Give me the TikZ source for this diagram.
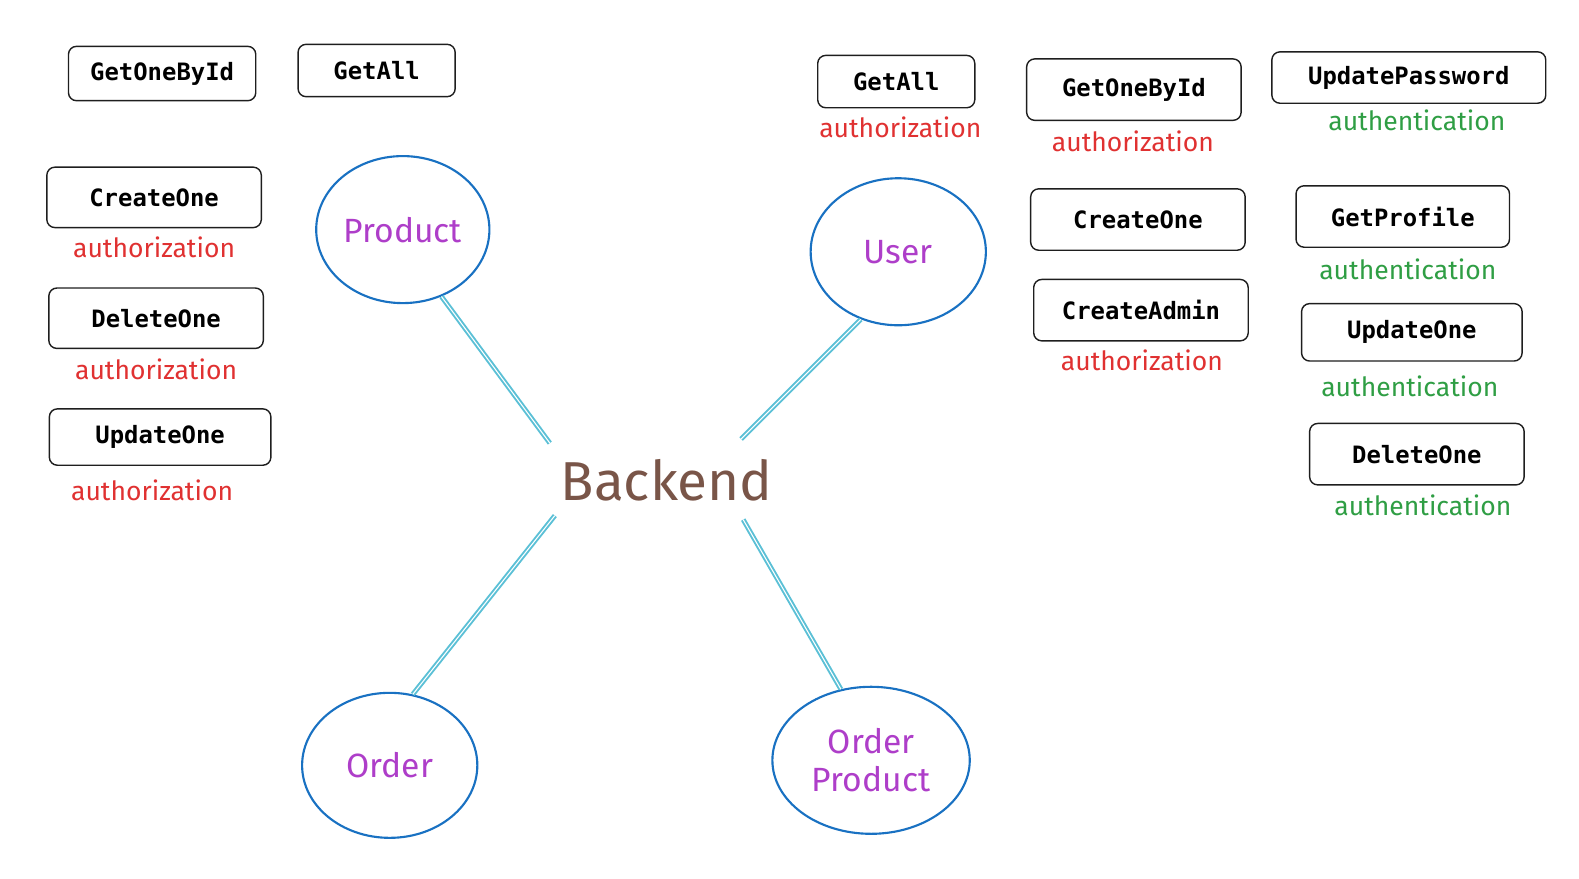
\documentclass[tikz,border=0pt]{standalone}
\usepackage{fontspec}
\setmainfont{Fira Sans}
\newfontfamily\codefont{DejaVu Sans Mono}
\usetikzlibrary{shapes.geometric}

\definecolor{boxline}{HTML}{1E1E1E}
\definecolor{authred}{HTML}{E03131}
\definecolor{authgreen}{HTML}{2F9E44}
\definecolor{entpurple}{HTML}{AE3EC9}
\definecolor{entblue}{HTML}{1971C2}
\definecolor{linkcyan}{HTML}{5BC0D6}
\definecolor{backbrown}{HTML}{795548}

\newlength\pxu
\setlength\pxu{0.02cm}

\tikzset{
  endpoint/.style={draw=boxline, line width=0.8pt, rounded corners=8\pxu, fill=white,
    inner sep=0pt, font=\codefont\bfseries\fontsize{13.5}{15}\selectfont},
  authz/.style={text=authred, font=\fontsize{15}{17}\selectfont},
  authn/.style={text=authgreen, font=\fontsize{15}{17}\selectfont},
  entity/.style={ellipse, draw=entblue, line width=1.2pt, inner sep=0pt, align=center,
    text=entpurple, font=\fontsize{19}{21.5}\selectfont},
  link/.style={draw=linkcyan, line width=1.1pt, double=white, double distance=0.6pt},
}

\begin{document}
\begin{tikzpicture}[x=0.02cm, y=-0.02cm]
\useasboundingbox (0,0) rectangle (1568,872);

% centre
\node[text=backbrown, font=\fontsize{31}{33}\selectfont] (backend) at (662,477) {Backend};
\coordinate (bnw) at ([shift={(-116,-37)}]backend.center);
\coordinate (bne) at ([shift={(74,-41)}]backend.center);
\coordinate (bsw) at ([shift={(-111,35)}]backend.center);
\coordinate (bse) at ([shift={(76,39)}]backend.center);

% entities
\node[entity, minimum width=172\pxu, minimum height=146\pxu] (product) at (400,228) {Product};
\node[entity, minimum width=174\pxu, minimum height=146\pxu] (user) at (892,250) {User};
\node[entity, minimum width=174\pxu, minimum height=144\pxu] (order) at (387,760) {Order};
\node[entity, minimum width=196\pxu, minimum height=146\pxu] (orderproduct) at (865,755) {Order\\Product};

\draw[link] (product.-60) -- (bnw);
\draw[link] (user.-119) -- (bne);
\draw[link] (order.72) -- (bsw);
\draw[link] (orderproduct.113) -- (bse);

% product endpoints
\node[endpoint, minimum width=186\pxu, minimum height=54\pxu] (pgetone) at (161,73) {GetOneById};
\node[endpoint, minimum width=156\pxu, minimum height=52\pxu] (pgetall) at (374,70) {GetAll};
\node[endpoint, minimum width=213\pxu, minimum height=60\pxu] (pcreate) at (153,196) {CreateOne};
\node[endpoint, minimum width=213\pxu, minimum height=60\pxu] (pdelete) at (155,316) {DeleteOne};
\node[endpoint, minimum width=220\pxu, minimum height=56\pxu] (pupdate) at (159,434) {UpdateOne};
\node[authz] (pcreatez) at (153,246) {authorization};
\node[authz] (pdeletez) at (155,367) {authorization};
\node[authz] (pupdatez) at (151,487) {authorization};

% user endpoints
\node[endpoint, minimum width=156\pxu, minimum height=52\pxu] (ugetall) at (890,81) {GetAll};
\node[endpoint, minimum width=213\pxu, minimum height=61\pxu] (ugetone) at (1126,89) {GetOneById};
\node[endpoint, minimum width=272\pxu, minimum height=51\pxu] (upass) at (1399,77) {UpdatePassword};
\node[endpoint, minimum width=213\pxu, minimum height=61\pxu] (ucreate) at (1130,218) {CreateOne};
\node[endpoint, minimum width=213\pxu, minimum height=61\pxu] (uadmin) at (1133,308) {CreateAdmin};
\node[endpoint, minimum width=212\pxu, minimum height=61\pxu] (uprofile) at (1393,215) {GetProfile};
\node[endpoint, minimum width=219\pxu, minimum height=57\pxu] (uupdate) at (1402,330) {UpdateOne};
\node[endpoint, minimum width=213\pxu, minimum height=61\pxu] (udelete) at (1407,451) {DeleteOne};
\node[authz] (ugetallz) at (894,126) {authorization};
\node[authz] (ugetonez) at (1125,140) {authorization};
\node[authz] (uadminz) at (1134,358) {authorization};
\node[authn] (upassn) at (1407,119) {authentication};
\node[authn] (uprofilen) at (1398,267) {authentication};
\node[authn] (uupdaten) at (1400,384) {authentication};
\node[authn] (udeleten) at (1413,502) {authentication};
\end{tikzpicture}
\end{document}
